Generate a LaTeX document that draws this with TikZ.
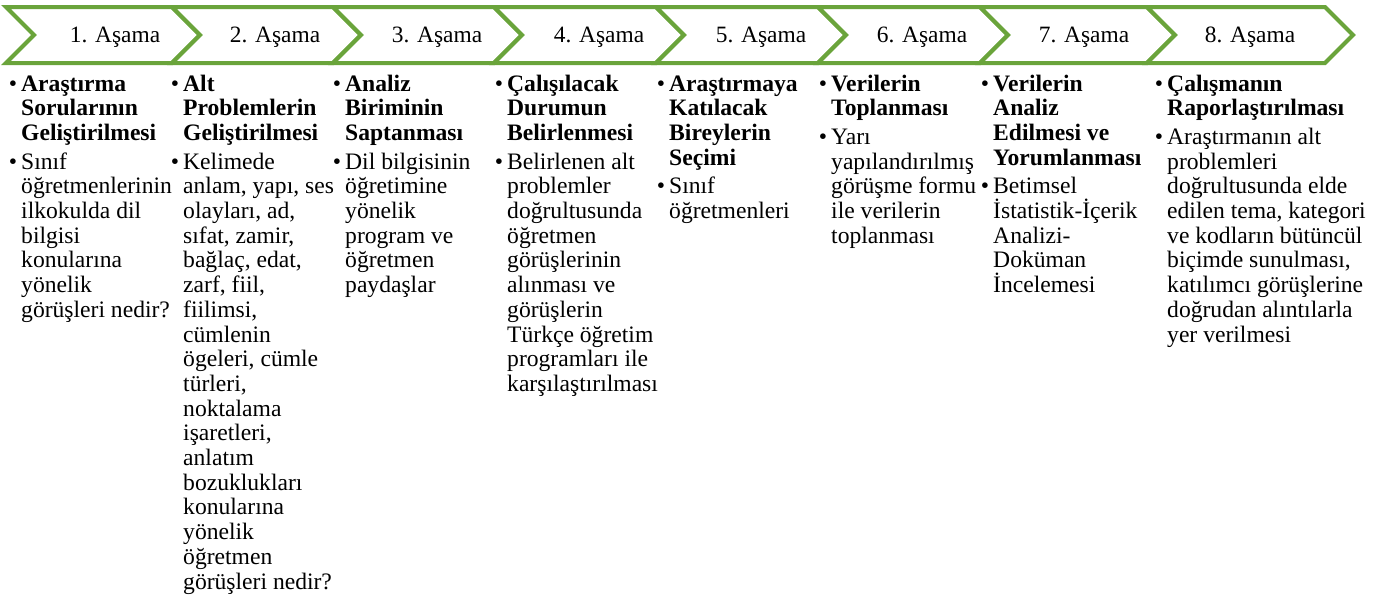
\documentclass[tikz,border=0pt]{standalone}
\usepackage{fontspec}
\setmainfont{Liberation Serif}
\definecolor{chev}{RGB}{106,164,59}
\newcommand\mybul{\leavevmode\llap{\textbullet\hspace{4pt}}}
\newcommand\colbox[1]{\parbox[t]{240pt}{\raggedright #1}}
\tikzset{
  chevron/.style={draw=chev, line width=4pt, fill=white, line join=miter},
  lbl/.style={anchor=base, inner sep=0pt, font=\fontsize{23.4}{24.7}\selectfont},
  col/.style={anchor=base west, inner sep=0pt, font=\fontsize{23.6}{24.7}\selectfont}
}
\begin{document}
\begin{tikzpicture}[x=1pt,y=-1pt]
\useasboundingbox[fill=white] (0,0) rectangle (1384,597);
\foreach \l/\r in {6/172,172/333,333/494,494/656,656/818,818/980,980/1147,1147/1325}
  \draw[chevron] (\l,7) -- (\r,7) -- (\r+28,35) -- (\r,63) -- (\l,63) -- (\l+28,35) -- cycle;

\node[lbl] (s1) at (115,42) {1. Aşama};
\node[lbl] (s2) at (275,42) {2. Aşama};
\node[lbl] (s3) at (437,42) {3. Aşama};
\node[lbl] (s4) at (599,42) {4. Aşama};
\node[lbl] (s5) at (761,42) {5. Aşama};
\node[lbl] (s6) at (922,42) {6. Aşama};
\node[lbl] (s7) at (1084,42) {7. Aşama};
\node[lbl] (s8) at (1250,42) {8. Aşama};

\node[col] (c1) at (21,91) {\colbox{\mybul\textbf{Araştırma}\\ \textbf{Sorularının}\\ \textbf{Geliştirilmesi}\\[4pt]
\mybul Sınıf\\ öğretmenlerinin\\ ilkokulda dil\\ bilgisi\\ konularına\\ yönelik\\ görüşleri nedir?}};

\node[col] (c2) at (183,91) {\colbox{\mybul\textbf{Alt}\\ \textbf{Problemlerin}\\ \textbf{Geliştirilmesi}\\[4pt]
\mybul Kelimede\\ anlam, yapı, ses\\ olayları, ad,\\ sıfat, zamir,\\ bağlaç, edat,\\ zarf, fiil,\\ fiilimsi,\\ cümlenin\\ ögeleri, cümle\\ türleri,\\ noktalama\\ işaretleri,\\ anlatım\\ bozuklukları\\ konularına\\ yönelik\\ öğretmen\\ görüşleri nedir?}};

\node[col] (c3) at (345,91) {\colbox{\mybul\textbf{Analiz}\\ \textbf{Biriminin}\\ \textbf{Saptanması}\\[4pt]
\mybul Dil bilgisinin\\ öğretimine\\ yönelik\\ program ve\\ öğretmen\\ paydaşlar}};

\node[col] (c4) at (507,91) {\colbox{\mybul\textbf{Çalışılacak}\\ \textbf{Durumun}\\ \textbf{Belirlenmesi}\\[4pt]
\mybul Belirlenen alt\\ problemler\\ doğrultusunda\\ öğretmen\\ görüşlerinin\\ alınması ve\\ görüşlerin\\ Türkçe öğretim\\ programları ile\\ karşılaştırılması}};

\node[col] (c5) at (669,91) {\colbox{\mybul\textbf{Araştırmaya}\\ \textbf{Katılacak}\\ \textbf{Bireylerin}\\ \textbf{Seçimi}\\[4pt]
\mybul Sınıf\\ öğretmenleri}};

\node[col] (c6) at (831,91) {\colbox{\mybul\textbf{Verilerin}\\ \textbf{Toplanması}\\[4pt]
\mybul Yarı\\ yapılandırılmış\\ görüşme formu\\ ile verilerin\\ toplanması}};

\node[col] (c7) at (993,91) {\colbox{\mybul\textbf{Verilerin}\\ \textbf{Analiz}\\ \textbf{Edilmesi ve}\\ \textbf{Yorumlanması}\\[4pt]
\mybul Betimsel\\ İstatistik-İçerik\\ Analizi-\\ Doküman\\ İncelemesi}};

\node[col] (c8) at (1167,91) {\colbox{\mybul\textbf{Çalışmanın}\\ \textbf{Raporlaştırılması}\\[4pt]
\mybul Araştırmanın alt\\ problemleri\\ doğrultusunda elde\\ edilen tema, kategori\\ ve kodların bütüncül\\ biçimde sunulması,\\ katılımcı görüşlerine\\ doğrudan alıntılarla\\ yer verilmesi}};
\end{tikzpicture}
\end{document}
